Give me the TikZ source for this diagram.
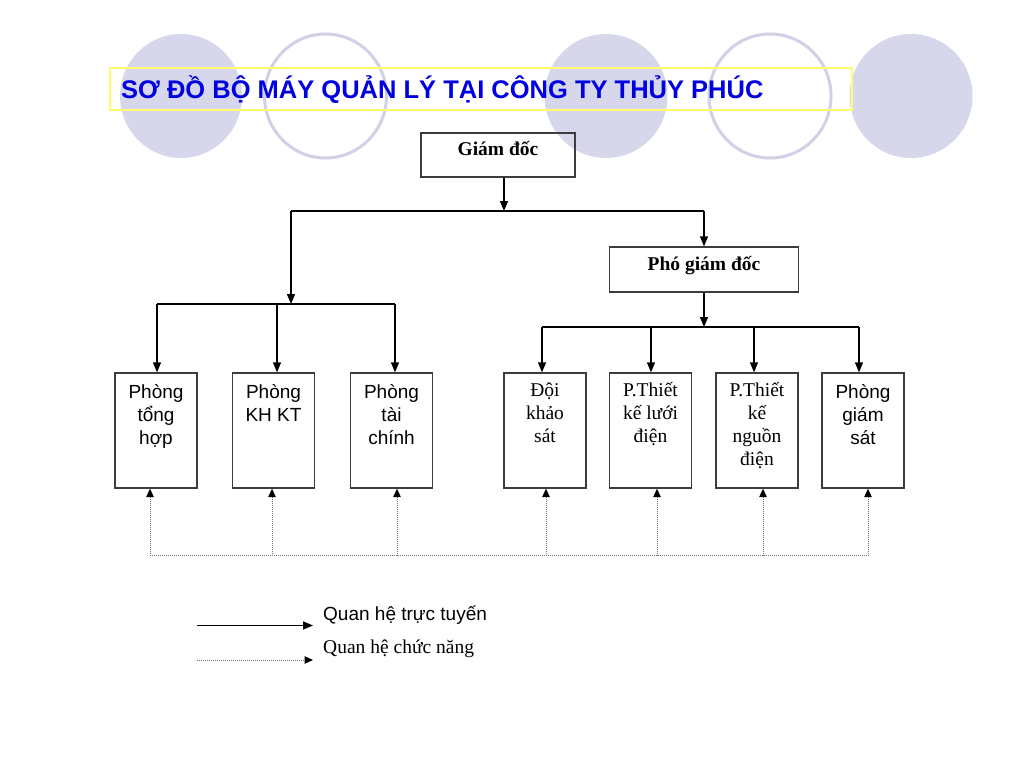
\documentclass[tikz,border=0pt]{standalone}
\usepackage{fontspec}
\setmainfont{Liberation Serif}
\setsansfont{Liberation Sans}
\usetikzlibrary{arrows.meta}
\definecolor{lav}{RGB}{215,215,235}
\definecolor{lavline}{RGB}{208,208,230}
\definecolor{ttl}{RGB}{0,0,225}
\definecolor{ylw}{RGB}{255,255,110}
\definecolor{boxline}{RGB}{60,60,60}
\newcommand{\mystack}[1]{\begin{tabular}[t]{@{}c@{}}#1\end{tabular}}
\begin{document}
\begin{tikzpicture}[x=1pt,y=-1pt,
  box/.style={draw=boxline, line width=1.3pt, minimum width=82pt, minimum height=115pt, inner sep=0pt},
  topbox/.style={draw=boxline, line width=1.3pt, inner sep=0pt},
  ln/.style={line width=1.3pt},
  arr/.style={line width=1.3pt, -{Triangle[length=10pt,width=8pt]}},
  dotln/.style={draw=black!55, line width=1pt, dash pattern=on 1pt off 1pt},
  dotarr/.style={dotln, -{Triangle[length=8.5pt,width=7.5pt,color=black]}},
  stxt/.style={inner sep=0pt, anchor=base, font=\sffamily\fontsize{19}{23}\selectfont},
  rtxt/.style={inner sep=0pt, anchor=base, font=\rmfamily\fontsize{19.5}{23}\selectfont},
  btxt/.style={inner sep=0pt, anchor=base, font=\rmfamily\bfseries\fontsize{19.5}{23}\selectfont},
  fillc/.style={fill=lav, draw=none},
  ringc/.style={draw=lavline, line width=3pt, fill=none}
]
\useasboundingbox (0,0) rectangle (1024,768);
\fill[white] (0,0) rectangle (1024,768);

% decorative circles
\path[fillc] (181,96) ellipse [x radius=61, y radius=62];
\path[ringc] (325.5,96) ellipse [x radius=61, y radius=62];
\path[fillc] (606,96) ellipse [x radius=61.5, y radius=62];
\path[ringc] (770,96) ellipse [x radius=61, y radius=62];
\path[fillc] (911,96) ellipse [x radius=61.5, y radius=62];

% title
\draw[draw=ylw, line width=1.6pt] (110,68) rectangle (852,110);
\node[inner sep=0pt, anchor=base west, text=ttl, font=\sffamily\bfseries\fontsize{25.5}{30}\selectfont] (title) at (121,98) {SƠ ĐỒ BỘ MÁY QUẢN LÝ TẠI CÔNG TY THỦY PHÚC};

% top boxes
\node[topbox, minimum width=154pt, minimum height=44pt] (gd) at (498,155) {};
\node[btxt] (gdt) at ([yshift=-23pt]gd.north) {Giám đốc};
\node[topbox, minimum width=189pt, minimum height=45pt] (pgd) at (704,269.5) {};
\node[btxt] (pgdt) at ([yshift=-24pt]pgd.north) {Phó giám đốc};

% bottom boxes
\node[box] (b1) at (156,430.5) {};
\node[box] (b2) at (273.5,430.5) {};
\node[box] (b3) at (391.5,430.5) {};
\node[box] (b4) at (545,430.5) {};
\node[box] (b5) at (650.5,430.5) {};
\node[box] (b6) at (757,430.5) {};
\node[box] (b7) at (863,430.5) {};

\node[stxt] (t1) at ([yshift=-26pt]b1.north) {\mystack{Phòng\\tổng\\hợp}};
\node[stxt] (t2) at ([yshift=-26pt]b2.north) {\mystack{Phòng\\KH KT}};
\node[stxt] (t3) at ([yshift=-26pt]b3.north) {\mystack{Phòng\\tài\\chính}};
\node[rtxt] (t4) at ([yshift=-24pt]b4.north) {\mystack{Đội\\khảo\\sát}};
\node[rtxt] (t5) at ([yshift=-24pt]b5.north) {\mystack{P.Thiết\\kế lưới\\điện}};
\node[rtxt] (t6) at ([yshift=-24pt]b6.north) {\mystack{P.Thiết\\kế\\nguồn\\điện}};
\node[stxt] (t7) at ([yshift=-26pt]b7.north) {\mystack{Phòng\\giám\\sát}};

% line connectors
\coordinate (j0) at (504,211);
\coordinate (jl) at (291,211);
\coordinate (jr) at (704,211);
\coordinate (bl) at (291,304);
\coordinate (br) at (704,327);
\draw[arr] ([xshift=6pt]gd.south) -- (j0);
\draw[ln] (jl) -- (jr);
\draw[arr] (jl) -- (bl);
\draw[arr] (jr) -- (pgd.north);
\draw[arr] (pgd.south) -- (br);

\draw[ln] ([xshift=1pt]b1.north |- bl) -- ([xshift=3.5pt]b3.north |- bl);
\draw[arr] ([xshift=1pt]b1.north |- bl) -- ([xshift=1pt]b1.north);
\draw[arr] ([xshift=3.5pt]b2.north |- bl) -- ([xshift=3.5pt]b2.north);
\draw[arr] ([xshift=3.5pt]b3.north |- bl) -- ([xshift=3.5pt]b3.north);

\draw[ln] ([xshift=-3pt]b4.north |- br) -- ([xshift=-4pt]b7.north |- br);
\draw[arr] ([xshift=-3pt]b4.north |- br) -- ([xshift=-3pt]b4.north);
\draw[arr] ([xshift=0.5pt]b5.north |- br) -- ([xshift=0.5pt]b5.north);
\draw[arr] ([xshift=-3pt]b6.north |- br) -- ([xshift=-3pt]b6.north);
\draw[arr] ([xshift=-4pt]b7.north |- br) -- ([xshift=-4pt]b7.north);

% functional (dotted) connectors
\coordinate (dl) at (0,555.5);
\draw[dotln] ([xshift=-6pt]b1.south |- dl) -- ([xshift=5pt]b7.south |- dl);
\draw[dotarr] ([xshift=-6pt]b1.south |- dl) -- ([xshift=-6pt]b1.south);
\draw[dotarr] ([xshift=-1.5pt]b2.south |- dl) -- ([xshift=-1.5pt]b2.south);
\draw[dotarr] ([xshift=5.5pt]b3.south |- dl) -- ([xshift=5.5pt]b3.south);
\draw[dotarr] ([xshift=1pt]b4.south |- dl) -- ([xshift=1pt]b4.south);
\draw[dotarr] ([xshift=6.5pt]b5.south |- dl) -- ([xshift=6.5pt]b5.south);
\draw[dotarr] ([xshift=6pt]b6.south |- dl) -- ([xshift=6pt]b6.south);
\draw[dotarr] ([xshift=5pt]b7.south |- dl) -- ([xshift=5pt]b7.south);

% legend
\coordinate (la) at (197,625.5);
\coordinate (lb) at (313,625.5);
\coordinate (lc) at (197,660);
\coordinate (ld) at (313,660);
\draw[arr] (la) -- (lb);
\draw[dotarr] (lc) -- (ld);
\node[stxt, anchor=base west] (lt1) at (323,620) {Quan hệ trực tuyến};
\node[rtxt, anchor=base west] (lt2) at (323,653) {Quan hệ chức năng};
\end{tikzpicture}
\end{document}
